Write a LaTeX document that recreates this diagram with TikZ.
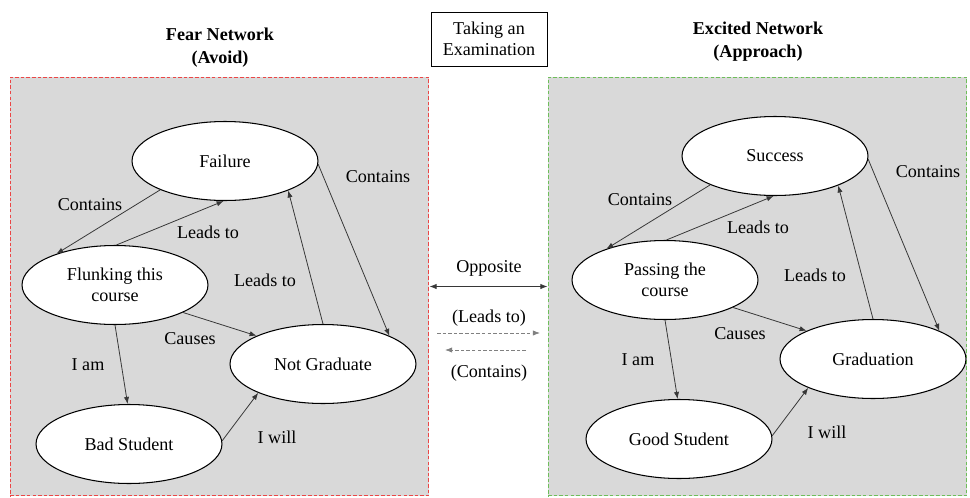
\documentclass[tikz,border=0pt]{standalone}
\usepackage{fontspec}
\setmainfont{Liberation Serif}
\usetikzlibrary{shapes.geometric,arrows.meta}
\definecolor{PanelGray}{RGB}{217,217,217}
\definecolor{FearRed}{RGB}{235,70,70}
\definecolor{ExcitedGreen}{RGB}{110,190,90}
\definecolor{EdgeGray}{RGB}{55,55,55}

\begin{document}
\begin{tikzpicture}[x=0.02cm,y=-0.02cm,
  font=\fontsize{10.3}{11.8}\selectfont,
  concept/.style={ellipse,draw,fill=white,line width=0.6pt,minimum width=3.72cm,
                  minimum height=1.58cm,inner sep=0pt,align=center},
  panel/.style={rectangle,fill=PanelGray,dash pattern=on 2pt off 1.2pt,line width=0.6pt,
                minimum width=8.38cm,minimum height=8.38cm},
  link/.style={-{Latex[length=4pt,width=3pt]},EdgeGray,line width=0.45pt},
  hint/.style={link,dash pattern=on 2pt off 1.2pt,gray},
  title/.style={font=\fontsize{10.3}{13}\selectfont\bfseries,align=center}]
  \useasboundingbox (0,0) rectangle (970,497);

  % the two panels
  \node[panel,draw=FearRed] (fear) at (219.5,286.5) {};
  \node[panel,draw=ExcitedGreen] (excited) at (757.5,286.5) {};
  \node[title] (feartitle) at (220,48) {Fear Network\\(Avoid)};
  \node[title] (excitedtitle) at (758,42) {Excited Network\\(Approach)};

  % fear network
  \node[concept] (fail) at (225,161) {Failure};
  \node[concept] (flunk) at (115,285) {Flunking this\\course};
  \node[concept] (notgrad) at (323,364) {Not Graduate};
  \node[concept] (bad) at (129,444) {Bad Student};
  \draw[link] (fail.204) -- (flunk.152);
  \draw[link] (flunk.88) -- (fail.268);
  \draw[link] (fail.-2) -- (notgrad.23);
  \draw[link] (notgrad.90) -- (fail.-25);
  \draw[link] (flunk.-22) -- (notgrad.157);
  \draw[link] (flunk.-90) -- (bad.92);
  \draw[link] (bad.2) -- (notgrad.204);
  \node (fcont1) at (90,205) {Contains};
  \node (flead1) at (208,232) {Leads to};
  \node (fcont2) at (378,177) {Contains};
  \node (flead2) at (265,280) {Leads to};
  \node (fcause) at (190,339) {Causes};
  \node (fiam) at (88,365) {I am};
  \node (fiwill) at (277,437) {I will};

  % excited network
  \begin{scope}[shift={(550,-5)}]
    \node[concept] (success) at (225,161) {Success};
    \node[concept] (pass) at (115,285) {Passing the\\course};
    \node[concept] (grad) at (323,364) {Graduation};
    \node[concept] (good) at (129,444) {Good Student};
    \draw[link] (success.204) -- (pass.152);
    \draw[link] (pass.88) -- (success.268);
    \draw[link] (success.-2) -- (grad.23);
    \draw[link] (grad.90) -- (success.-25);
    \draw[link] (pass.-22) -- (grad.157);
    \draw[link] (pass.-90) -- (good.92);
    \draw[link] (good.2) -- (grad.204);
    \node (econt1) at (90,205) {Contains};
    \node (elead1) at (208,232) {Leads to};
    \node (econt2) at (378,177) {Contains};
    \node (elead2) at (265,280) {Leads to};
    \node (ecause) at (190,339) {Causes};
    \node (eiam) at (88,365) {I am};
    \node (eiwill) at (277,437) {I will};
  \end{scope}

  % middle
  \node[draw,line width=0.5pt,minimum width=2.32cm,minimum height=1.08cm,align=center]
    (exam) at (489,39) {Taking an\\Examination};
  \draw[link,{Latex[length=4pt,width=3pt]}-{Latex[length=4pt,width=3pt]}] (fear.east) -- (excited.west);
  \node (opp) at (489,268) {Opposite};
  \node (leadsto) at (489,318) {(Leads to)};
  \node (contains) at (489,373) {(Contains)};
  \coordinate (lt1) at (437,333);
  \coordinate (lt2) at (540,333);
  \coordinate (ct1) at (526,350);
  \coordinate (ct2) at (445,350);
  \draw[hint] (lt1) -- (lt2);
  \draw[hint] (ct1) -- (ct2);
\end{tikzpicture}
\end{document}
